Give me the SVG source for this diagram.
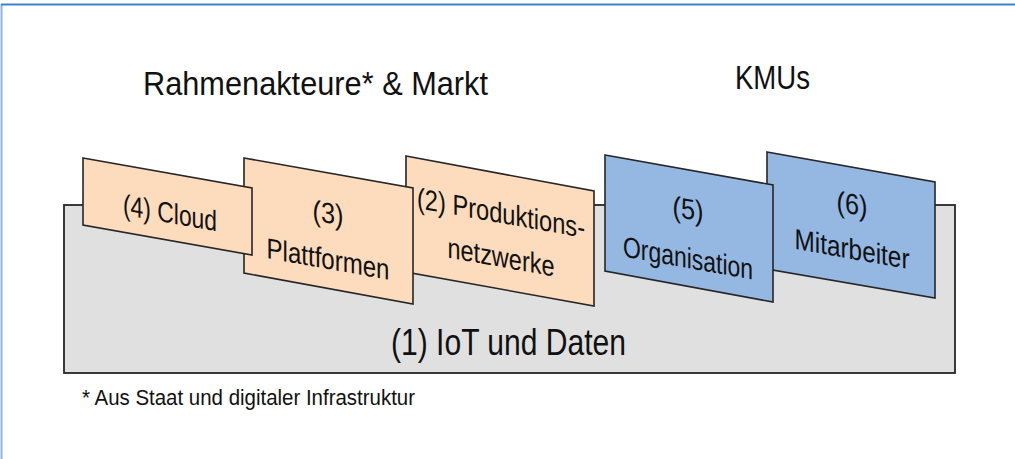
<svg xmlns="http://www.w3.org/2000/svg" width="1015" height="459" viewBox="0 0 1015 459">
<style>
.t{font-family:"Liberation Sans",Arial,sans-serif;fill:#111}
.pe{fill:#FCDCBD;stroke:#262626;stroke-width:1.6;stroke-linejoin:miter}
.bl{fill:#95B8E3;stroke:#262626;stroke-width:1.6;stroke-linejoin:miter}
.lb{font-family:"Liberation Sans",Arial,sans-serif;font-size:29px;fill:#111;text-anchor:middle}
</style>
<rect x="0" y="0" width="1015" height="459" fill="#fff"/>
<line x1="1.5" y1="4" x2="1.5" y2="459" stroke="#8DB5E0" stroke-width="2"/>
<line x1="1" y1="4.5" x2="1015" y2="4.5" stroke="#3C82D0" stroke-width="2"/>
<text class="t" x="143" y="95" font-size="34" textLength="345" lengthAdjust="spacingAndGlyphs">Rahmenakteure* &amp; Markt</text>
<text class="t" x="735" y="89" font-size="34" textLength="75" lengthAdjust="spacingAndGlyphs">KMUs</text>
<g id="n1">
<rect x="64" y="205" width="891" height="168" fill="#E0E0E0" stroke="#262626" stroke-width="1.8"/>
<text class="t" x="391" y="355" font-size="36" textLength="235" lengthAdjust="spacingAndGlyphs">(1) IoT und Daten</text>
</g>
<g id="n2">
<polygon class="pe" points="406,156 594,191 594,306 406,272"/>
<g transform="translate(501,0) skewY(10.1)">
<text class="lb" x="0" y="223" textLength="168" lengthAdjust="spacingAndGlyphs">(2) Produktions-</text>
<text class="lb" x="0" y="267" textLength="107" lengthAdjust="spacingAndGlyphs">netzwerke</text>
</g>
</g>
<g id="n3">
<polygon class="pe" points="244,158 413,188 413,304 244,273"/>
<g transform="translate(328,0) skewY(10.1)">
<text class="lb" x="0" y="223" textLength="31" lengthAdjust="spacingAndGlyphs">(3)</text>
<text class="lb" x="0" y="269" textLength="123" lengthAdjust="spacingAndGlyphs">Plattformen</text>
</g>
</g>
<g id="n4">
<polygon class="pe" points="83,158 252,188 252,255 83,225"/>
<g transform="translate(170,0) skewY(10.1)">
<text class="lb" x="0" y="223" textLength="94" lengthAdjust="spacingAndGlyphs">(4) Cloud</text>
</g>
</g>
<g id="n6">
<polygon class="bl" points="767,152 935,182 935,298 767,269"/>
<g transform="translate(852,0) skewY(10.1)">
<text class="lb" x="0" y="214" textLength="31" lengthAdjust="spacingAndGlyphs">(6)</text>
<text class="lb" x="0" y="259" textLength="115" lengthAdjust="spacingAndGlyphs">Mitarbeiter</text>
</g>
</g>
<g id="n5">
<polygon class="bl" points="605,155 773,185 773,302 605,271"/>
<g transform="translate(688,0) skewY(10.1)">
<text class="lb" x="0" y="219" textLength="31" lengthAdjust="spacingAndGlyphs">(5)</text>
<text class="lb" x="0" y="268" textLength="130" lengthAdjust="spacingAndGlyphs">Organisation</text>
</g>
</g>
<g id="connectors"/>
<text class="t" x="82" y="405" font-size="22" textLength="333" lengthAdjust="spacingAndGlyphs">* Aus Staat und digitaler Infrastruktur</text>
</svg>
